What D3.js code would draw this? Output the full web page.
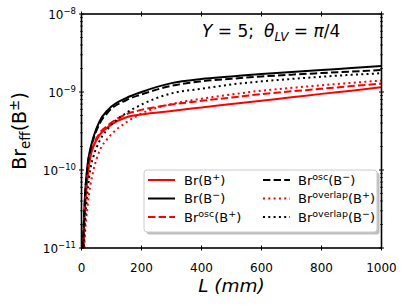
<!DOCTYPE html>
<html><head><meta charset="utf-8">
<script src="https://cdn.jsdelivr.net/npm/d3@7"></script>
<style>body{margin:0;background:#fff}svg{display:block}text{font-family:"DejaVu Sans",sans-serif}</style>
</head><body><svg id="c" width="407" height="305"></svg>
<script>
const L = [2,5,10,20,30,40,60,90,150,200,300,400,500,600,700,800,900,1000];
const brPlus   = [1.2e-12,7e-12,2.4e-11,8e-11,1.5e-10,2.0e-10,2.8e-10,3.6e-10,4.75e-10,5.15e-10,5.72e-10,6.33e-10,7.0e-10,7.74e-10,8.55e-10,9.46e-10,1.04e-9,1.15e-9];
const brMinus  = [1.5e-12,9e-12,3.4e-11,1.15e-10,1.9e-10,2.65e-10,4.2e-10,6.0e-10,8.4e-10,1.0e-9,1.3e-9,1.47e-9,1.58e-9,1.70e-9,1.80e-9,1.91e-9,2.03e-9,2.15e-9];
const oscPlus  = [1.2e-12,7e-12,2.5e-11,8.5e-11,1.55e-10,2.1e-10,2.95e-10,3.8e-10,5.2e-10,5.9e-10,6.9e-10,7.7e-10,8.5e-10,9.4e-10,1.02e-9,1.1e-9,1.19e-9,1.28e-9];
const oscMinus = [1.5e-12,9e-12,3.3e-11,1.1e-10,1.8e-10,2.5e-10,3.9e-10,5.6e-10,7.9e-10,9.3e-10,1.2e-9,1.37e-9,1.48e-9,1.58e-9,1.67e-9,1.75e-9,1.83e-9,1.91e-9];
const ovPlus   = [6e-13,3e-12,1.1e-11,3.3e-11,6.5e-11,1.0e-10,1.75e-10,2.6e-10,4.1e-10,5.3e-10,7.0e-10,8.2e-10,9.3e-10,1.04e-9,1.13e-9,1.22e-9,1.31e-9,1.40e-9];
const ovMinus  = [1e-12,5e-12,1.6e-11,5.2e-11,1.05e-10,1.5e-10,2.35e-10,3.45e-10,5.4e-10,6.9e-10,9.6e-10,1.1e-9,1.25e-9,1.37e-9,1.47e-9,1.57e-9,1.66e-9,1.74e-9];
const xTicks = [0,200,400,600,800,1000];
const yTicks = [1e-11,1e-10,1e-9,1e-8];
const yTickExp = ["\u221211","\u221210","\u22129","\u22128"];

const series = [
  {name:"Br", sup:"", arg:"+", vals:brPlus, color:"red", dash:null},
  {name:"Br", sup:"", arg:"\u2212", vals:brMinus, color:"black", dash:null},
  {name:"Br", sup:"osc", arg:"+", vals:oscPlus, color:"red", dash:"7.4,3.2"},
  {name:"Br", sup:"osc", arg:"\u2212", vals:oscMinus, color:"black", dash:"7.4,3.2"},
  {name:"Br", sup:"overlap", arg:"+", vals:ovPlus, color:"red", dash:"2,3.3"},
  {name:"Br", sup:"overlap", arg:"\u2212", vals:ovMinus, color:"black", dash:"2,3.3"}
];

const svg = d3.select("#c");
const pL=81.5, pR=381.5, pT=14, pB=248;
const x = d3.scaleLinear().domain([0,1000]).range([pL,pR]);
const y = d3.scaleLog().domain([1e-11,1e-8]).range([pB,pT]);

svg.append("clipPath").attr("id","clip").append("rect")
  .attr("x",pL).attr("y",pT).attr("width",pR-pL).attr("height",pB-pT);

const line = d3.line().x(d=>x(d[0])).y(d=>y(d[1])).curve(d3.curveMonotoneX);
const g = svg.append("g").attr("clip-path","url(#clip)");
series.forEach(s=>{
  g.append("path").datum(L.map((l,i)=>[l,s.vals[i]]))
   .attr("d",line).attr("fill","none").attr("stroke",s.color)
   .attr("stroke-width",2).attr("stroke-dasharray",s.dash);
});

svg.append("rect").attr("x",pL).attr("y",pT).attr("width",pR-pL).attr("height",pB-pT)
  .attr("fill","none").attr("stroke","black").attr("stroke-width",1.6);

xTicks.forEach(t=>{
  [pB,pT].forEach(yy=>{
    svg.append("line").attr("x1",x(t)).attr("x2",x(t)).attr("y1",yy-2.5).attr("y2",yy+2.5)
      .attr("stroke","black").attr("stroke-width",1);
  });
  svg.append("text").attr("x",x(t)).attr("y",271.5).attr("text-anchor","middle")
    .attr("font-size",12).text(t);
});
const minor=[];
for(let e=-11;e<-8;e++) for(let m=2;m<=9;m++) minor.push(m*Math.pow(10,e));
minor.forEach(v=>{
  [pL,pR].forEach(xx=>{
    svg.append("line").attr("x1",xx-1.5).attr("x2",xx+1.5).attr("y1",y(v)).attr("y2",y(v))
      .attr("stroke","black").attr("stroke-width",0.7);
  });
});
yTicks.forEach((v,i)=>{
  [pL,pR].forEach(xx=>{
    svg.append("line").attr("x1",xx-2.5).attr("x2",xx+2.5).attr("y1",y(v)).attr("y2",y(v))
      .attr("stroke","black").attr("stroke-width",1);
  });
  const t = svg.append("text").attr("x",76).attr("y",y(v)+4.5).attr("text-anchor","end").attr("font-size",12);
  t.append("tspan").text("10");
  t.append("tspan").attr("dy",-5).attr("font-size",8.5).text(yTickExp[i]);
});

svg.append("text").attr("x",(pL+pR)/2).attr("y",292).attr("text-anchor","middle")
  .attr("font-size",18.5).attr("font-style","italic").text("L (mm)");
const yl = svg.append("text").attr("transform",`translate(26,${(pT+pB)/2}) rotate(-90)`)
  .attr("text-anchor","middle").attr("font-size",19);
yl.append("tspan").text("Br");
yl.append("tspan").attr("dy",4).attr("font-size",13.5).text("eff");
yl.append("tspan").attr("dy",-4).text("(B");
yl.append("tspan").attr("dy",-7.5).attr("font-size",13.5).text("\u00b1");
yl.append("tspan").attr("dy",7.5).text(")");

const tt = svg.append("text").attr("x",202).attr("y",37).attr("font-size",17);
tt.append("tspan").attr("font-style","italic").text("Y");
tt.append("tspan").text(" = 5;");
tt.append("tspan").attr("dx",10).attr("font-style","italic").text("\u03b8");
tt.append("tspan").attr("font-style","italic").attr("font-size",12).attr("dy",4).text("LV");
tt.append("tspan").attr("dy",-4).text(" = ");
tt.append("tspan").attr("font-style","italic").text("\u03c0");
tt.append("tspan").text("/4");

const lg = svg.append("g");
lg.append("rect").attr("x",146.5).attr("y",172.5).attr("width",233).attr("height",62).attr("rx",3)
  .attr("fill","#888").attr("opacity",0.55);
lg.append("rect").attr("x",144).attr("y",170).attr("width",233).attr("height",62).attr("rx",3)
  .attr("fill","white").attr("stroke","#ccc").attr("stroke-width",1);
series.forEach((s,i)=>{
  const col = Math.floor(i/3), row = i%3;
  const lx = col===0?148:263, tx = col===0?184:298, ly = 180+row*18.5;
  lg.append("line").attr("x1",lx).attr("x2",lx+27).attr("y1",ly).attr("y2",ly)
    .attr("stroke",s.color).attr("stroke-width",2).attr("stroke-dasharray",s.dash);
  const t = lg.append("text").attr("x",tx).attr("y",ly+4.5).attr("font-size",13);
  t.append("tspan").text(s.name);
  if(s.sup){ t.append("tspan").attr("dy",-5).attr("font-size",9.5).text(s.sup);
             t.append("tspan").attr("dy",5).text("(B"); }
  else t.append("tspan").text("(B");
  t.append("tspan").attr("dy",-5).attr("font-size",9.5).text(s.arg);
  t.append("tspan").attr("dy",5).text(")");
});
</script></body></html>
